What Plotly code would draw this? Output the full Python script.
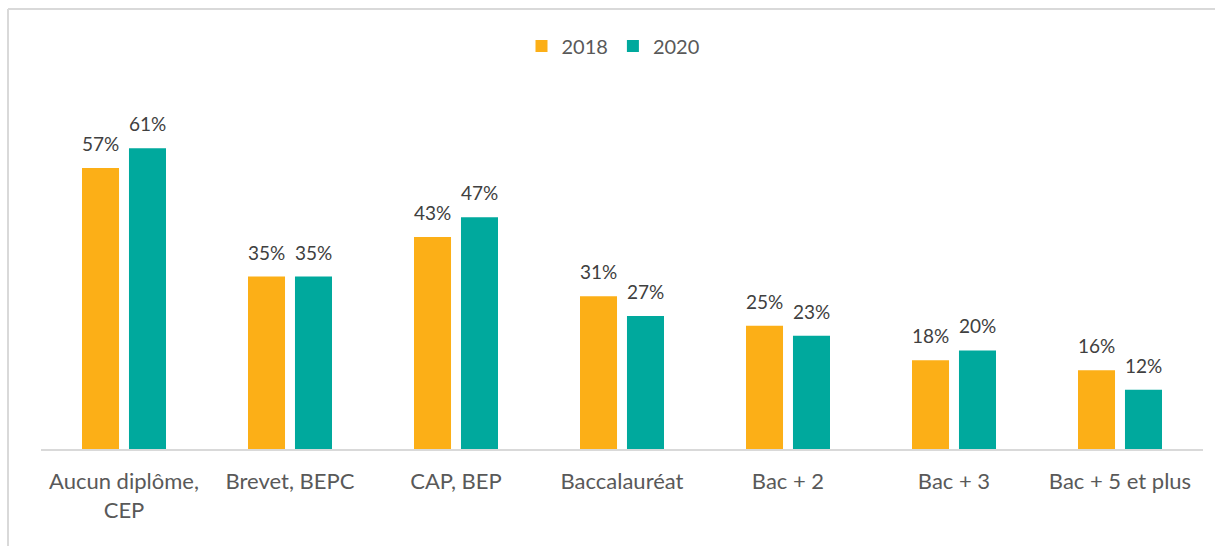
import plotly.graph_objects as go

categories = ["Aucun diplôme,<br>CEP", "Brevet, BEPC", "CAP, BEP", "Baccalauréat",
              "Bac + 2", "Bac + 3", "Bac + 5 et plus"]
values_2018 = [57, 35, 43, 31, 25, 18, 16]
values_2020 = [61, 35, 47, 27, 23, 20, 12]

W, H = 1215, 546
ML, MR, MT, MB = 41, 12, 104, 97  # plot area: x 41..1203, y 104..449

FONT = "Lato, 'Open Sans', sans-serif"
ORANGE = "#FCAF17"
TEAL = "#00A99D"
BAR_W = 0.223
OFFSETS = {"2018": -0.253, "2020": 0.030}

fig = go.Figure()
for name, vals, color in [("2018", values_2018, ORANGE), ("2020", values_2020, TEAL)]:
    fig.add_trace(go.Bar(
        name=name, x=categories, y=vals,
        marker=dict(color=color, line=dict(width=0)),
        width=BAR_W, offset=OFFSETS[name],
    ))

pw = W - ML - MR
ph = H - MT - MB
cat_px = pw / len(categories)

# value labels above each bar
for name, vals in [("2018", values_2018), ("2020", values_2020)]:
    shift = (OFFSETS[name] + BAR_W / 2) * cat_px
    for c, v in zip(categories, vals):
        fig.add_annotation(x=c, y=v, text=f"{v}%", showarrow=False,
                           xshift=shift, yshift=11, yanchor="bottom",
                           font=dict(size=19, color="#404040", family=FONT))

# chart frame: left and top edges
x_frame = (8 - ML) / pw
y_frame = (H - MB - 9) / ph
fig.add_shape(type="line", xref="paper", yref="paper", x0=x_frame, x1=x_frame,
              y0=y_frame, y1=-1, line=dict(color="#D9D9D9", width=2))
fig.add_shape(type="line", xref="paper", yref="paper", x0=x_frame, x1=1.5,
              y0=y_frame, y1=y_frame, line=dict(color="#D9D9D9", width=2))

fig.update_layout(
    width=W, height=H,
    margin=dict(l=ML, r=MR, t=MT, b=MB),
    paper_bgcolor="white", plot_bgcolor="white",
    showlegend=True,
    legend=dict(orientation="h", x=0.5 - 9 / pw, xanchor="center", y=(H - MB - 46) / ph,
                yanchor="middle", font=dict(size=20, color="#595959", family=FONT),
                itemwidth=30, traceorder="normal"),
    font=dict(family=FONT),
    xaxis=dict(showline=True, linecolor="#D9D9D9", linewidth=1.5, ticks="",
               tickfont=dict(size=22, color="#595959", family=FONT), ticklabelstandoff=12),
    yaxis=dict(range=[0, 70], visible=False, showgrid=False, zeroline=False),
    bargap=0.4,
)

fig.write_html("out.html")
